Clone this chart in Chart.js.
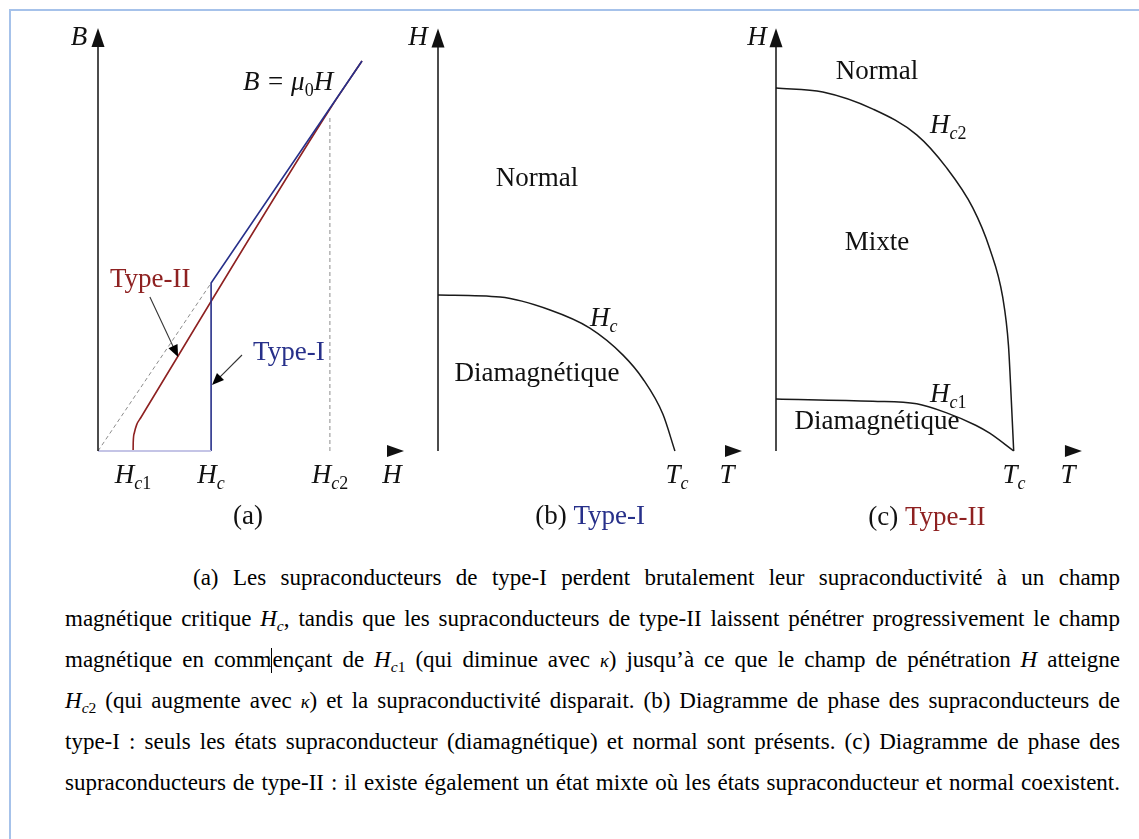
<!DOCTYPE html>
<html lang="fr">
<head>
<meta charset="utf-8">
<title>Supraconducteurs de type I et de type II</title>
<script src="https://cdn.jsdelivr.net/npm/chart.js@4.4.1/dist/chart.umd.min.js"></script>
<style>
  html, body { margin: 0; padding: 0; background: #fff; overflow: hidden; }
  body { width: 1139px; height: 839px; position: relative; }
  #frame {
    position: absolute; left: 9px; top: 9px; width: 1300px; height: 1000px;
    border-left: 2px solid #a6c2ea; border-top: 2px solid #a6c2ea;
  }
  canvas { position: absolute; top: 0; }
  #caption {
    position: absolute; left: 65px; top: 557px; width: 1055px;
    font-family: "Liberation Serif", "Times New Roman", serif; font-size: 23px; color: #000;
  }
  #caption .ln { height: 41px; line-height: 41px; text-align: justify; text-align-last: justify; }
  #caption .first { padding-left: 128px; }
  #caption i { font-style: italic; }
  #caption .s { font-size: 0.68em; vertical-align: -0.3em; line-height: 0; }
  #caption .k { font-size: 0.8em; }
  #caption .caret { display: inline-block; width: 0; height: 25px; border-left: 1px solid #000; vertical-align: -6px; }
</style>
</head>
<body>
<div id="frame"></div>
<canvas id="panelA" width="420" height="540" style="left:0px"></canvas>
<canvas id="panelB" width="380" height="540" style="left:380px"></canvas>
<canvas id="panelC" width="399" height="540" style="left:740px"></canvas>

<div id="caption">
  <div class="ln first">(a) Les supraconducteurs de type-I perdent brutalement leur supraconductivité à un champ</div>
  <div class="ln">magnétique critique <i>H</i><span class="s"><i>c</i></span>, tandis que les supraconducteurs de type-II laissent pénétrer progressivement le champ</div>
  <div class="ln">magnétique en comm<span class="caret"></span>ençant de <i>H</i><span class="s"><i>c</i>1</span> (qui diminue avec <i class="k">κ</i>) jusqu’à ce que le champ de pénétration <i>H</i> atteigne</div>
  <div class="ln"><i>H</i><span class="s"><i>c</i>2</span> (qui augmente avec <i class="k">κ</i>) et la supraconductivité disparait. (b) Diagramme de phase des supraconducteurs de</div>
  <div class="ln">type-I : seuls les états supraconducteur (diamagnétique) et normal sont présents. (c) Diagramme de phase des</div>
  <div class="ln">supraconducteurs de type-II : il existe également un état mixte où les états supraconducteur et normal coexistent.</div>
</div>

<script>
// ---- (a) B(H) curves, arbitrary units ----
const hTickValues = [1.17, 3.77, 7.73];          // Hc1, Hc, Hc2
const hTickSubs = ['c1', 'c', 'c2'];
const type1Base = [[0, 0], [3.77, 0]];
const type1Curve = [[3.77, 0], [3.77, 5.6], [8.8, 13.0]];
const vacuumLine = [[0, 0], [3.77, 5.6]];         // B = mu0 H below Hc
const type2Curve = [[1.17, 0], [1.175, 0.3], [1.21, 0.6], [1.29, 0.88], [1.42, 1.1], [1.6, 1.4], [7.73, 11.4], [8.8, 13.0]];
const hc2Marker = [[7.73, 0], [7.73, 11.2]];

// ---- (b) type I phase diagram, T/Tc vs H/Hc(0) ----
const hcCurve = [[0, 1.0], [0.262, 0.987], [0.473, 0.904], [0.641, 0.788], [0.781, 0.615], [0.865, 0.462], [0.949, 0.237], [1, 0]];

// ---- (c) type II phase diagram, T/Tc vs H/Hc2(0) ----
const hc2Curve = [[0, 1.0], [0.197, 0.989], [0.408, 0.942], [0.592, 0.871], [0.718, 0.780], [0.828, 0.670],
                  [0.899, 0.558], [0.954, 0.423], [0.978, 0.291], [0.99, 0.14], [1, 0]];
const hc1Curve = [[0, 0.143], [0.408, 0.137], [0.592, 0.130], [0.718, 0.105], [0.840, 0.071], [0.899, 0.049], [1, 0]];

const SERIF = '"Liberation Serif", "Times New Roman", serif';
const RED = '#8e2121';
const BLUE = '#27308a';
const INK = '#111';

const pts = arr => arr.map(([x, y]) => ({ x, y }));

function line(data, color, extra) {
  return Object.assign({
    data: pts(data), showLine: true, borderColor: color, borderWidth: 1.6,
    pointRadius: 0, fill: false, clip: false, tension: 0
  }, extra || {});
}

// italic symbol with a subscript: letters italic, digits upright
function sym(base, sub) {
  const runs = [{ t: base, it: true }];
  if (sub) for (const ch of sub) runs.push({ t: ch, it: /[a-z]/.test(ch), sub: true });
  return runs;
}

function drawRuns(ctx, runs, x, y, align, size, color) {
  const fontOf = r => `${r.it ? 'italic ' : ''}${r.sub ? Math.round(size * 0.68) : size}px ${SERIF}`;
  let w = 0;
  runs.forEach(r => { ctx.font = fontOf(r); w += ctx.measureText(r.t).width; });
  let cx = align === 'center' ? x - w / 2 : x;
  ctx.textAlign = 'left';
  ctx.textBaseline = 'middle';
  runs.forEach(r => {
    ctx.font = fontOf(r);
    ctx.fillStyle = r.color || color;
    ctx.fillText(r.t, cx, r.sub ? y + size * 0.3 : y);
    cx += ctx.measureText(r.t).width;
  });
}

function arrowHead(ctx, x, y, angle, len, half) {
  ctx.save();
  ctx.translate(x, y);
  ctx.rotate(angle);
  ctx.beginPath();
  ctx.moveTo(0, 0);
  ctx.lineTo(-len, -half);
  ctx.lineTo(-len, half);
  ctx.closePath();
  ctx.fill();
  ctx.restore();
}

// axes with arrow heads, pointer arrows and all the labels
const sketchPlugin = {
  id: 'sketch',
  afterDatasetsDraw(chart, args, opts) {
    const { ctx } = chart;
    const px = v => chart.scales.x.getPixelForValue(v);
    const py = v => chart.scales.y.getPixelForValue(v);
    ctx.save();
    ctx.fillStyle = INK;
    ctx.strokeStyle = INK;

    // vertical axis
    ctx.lineWidth = 1.5;
    ctx.beginPath();
    ctx.moveTo(px(0), py(0));
    ctx.lineTo(px(0), py(opts.yArrow) + 12);
    ctx.stroke();
    arrowHead(ctx, px(0), py(opts.yArrow), -Math.PI / 2, 19, 6.5);

    // horizontal axis: only its arrow head
    arrowHead(ctx, px(opts.xArrow), py(0), 0, 17, 6);

    // pointer arrows
    (opts.pointers || []).forEach(p => {
      const x1 = px(p.from[0]), y1 = py(p.from[1]), x2 = px(p.to[0]), y2 = py(p.to[1]);
      const a = Math.atan2(y2 - y1, x2 - x1);
      ctx.strokeStyle = '#333';
      ctx.lineWidth = 1.1;
      ctx.beginPath();
      ctx.moveTo(x1, y1);
      ctx.lineTo(x2 - 9 * Math.cos(a), y2 - 9 * Math.sin(a));
      ctx.stroke();
      ctx.fillStyle = '#000';
      arrowHead(ctx, x2, y2, a, 12, 5);
    });

    // tick labels under the horizontal axis
    (opts.ticks || []).forEach(t => {
      drawRuns(ctx, t.runs, px(t.value), py(0) + 25, 'center', 27, INK);
    });

    (opts.labels || []).forEach(l => {
      drawRuns(ctx, l.runs, px(l.x), py(l.y), l.align || 'center', l.size || 27, l.color || INK);
    });
    ctx.restore();
  }
};

function makePanel(id, canvasLeft, plot, xRange, yRange, datasets, sketch) {
  const cv = document.getElementById(id);
  return new Chart(cv, {
    type: 'scatter',
    data: { datasets },
    options: {
      responsive: false,
      animation: false,
      devicePixelRatio: 1,
      layout: {
        padding: {
          left: plot.left - canvasLeft,
          right: canvasLeft + cv.width - plot.right,
          top: plot.top,
          bottom: cv.height - plot.bottom
        }
      },
      scales: {
        x: { type: 'linear', min: xRange[0], max: xRange[1], display: false },
        y: { type: 'linear', min: yRange[0], max: yRange[1], display: false }
      },
      plugins: { legend: { display: false }, tooltip: { enabled: false }, sketch }
    },
    plugins: [sketchPlugin]
  });
}

// (a)
makePanel('panelA', 0, { left: 98, right: 398, top: 31, bottom: 451 }, [0, 10], [0, 14], [
  line(vacuumLine, '#8c8c8c', { borderWidth: 1, borderDash: [4, 3] }),
  line(hc2Marker, '#8c8c8c', { borderWidth: 1, borderDash: [4, 3] }),
  line(type1Base, '#c4c4e6', { borderWidth: 2 }),
  line(type1Curve, BLUE),
  line(type2Curve, RED, { cubicInterpolationMode: 'monotone' })
], {
  yArrow: 14.1,
  xArrow: 10.2,
  ticks: hTickValues.map((v, i) => ({ value: v, runs: sym('H', hTickSubs[i]) })),
  pointers: [
    { from: [1.73, 5.13], to: [2.67, 3.13] },
    { from: [4.8, 3.2], to: [3.8, 2.2] }
  ],
  labels: [
    { x: -0.63, y: 13.77, runs: sym('B') },
    { x: 4.83, y: 12.27, align: 'left', runs: [{ t: 'B = μ', it: true }, { t: '0', sub: true }, { t: 'H', it: true }] },
    { x: 0.4, y: 5.7, align: 'left', color: RED, runs: [{ t: 'Type-II' }] },
    { x: 5.17, y: 3.27, align: 'left', color: BLUE, runs: [{ t: 'Type-I' }] },
    { x: 9.8, y: -0.83, runs: sym('H') },
    { x: 5.0, y: -2.2, runs: [{ t: '(a)' }] }
  ]
});

// (b)
makePanel('panelB', 380, { left: 438, right: 746, top: 30, bottom: 451 }, [0, 1.3], [0, 2.7], [
  line(hcCurve, '#1a1a1a', { borderWidth: 1.5, cubicInterpolationMode: 'monotone' })
], {
  yArrow: 2.71,
  xArrow: 1.283,
  labels: [
    { x: -0.084, y: 2.65, runs: sym('H') },
    { x: 0.418, y: 1.745, runs: [{ t: 'Normal' }] },
    { x: 0.642, y: 0.847, align: 'left', runs: sym('H', 'c') },
    { x: 0.418, y: 0.494, runs: [{ t: 'Diamagnétique' }] },
    { x: 1.009, y: -0.16, runs: sym('T', 'c') },
    { x: 1.22, y: -0.16, runs: sym('T') },
    { x: 0.642, y: -0.423, runs: [{ t: '(b) ' }, { t: 'Type-I', color: BLUE }] }
  ]
});

// (c)
makePanel('panelC', 740, { left: 776, right: 1085, top: 30, bottom: 451 }, [0, 1.3], [0, 1.16], [
  line(hc2Curve, '#1a1a1a', { borderWidth: 1.5, cubicInterpolationMode: 'monotone' }),
  line(hc1Curve, '#1a1a1a', { borderWidth: 1.5, cubicInterpolationMode: 'monotone' })
], {
  yArrow: 1.165,
  xArrow: 1.287,
  labels: [
    { x: -0.08, y: 1.138, runs: sym('H') },
    { x: 0.425, y: 1.044, runs: [{ t: 'Normal' }] },
    { x: 0.648, y: 0.896, align: 'left', runs: sym('H', 'c2') },
    { x: 0.425, y: 0.573, runs: [{ t: 'Mixte' }] },
    { x: 0.648, y: 0.154, align: 'left', runs: sym('H', 'c1') },
    { x: 0.425, y: 0.080, runs: [{ t: 'Diamagnétique' }] },
    { x: 1.001, y: -0.069, runs: sym('T', 'c') },
    { x: 1.228, y: -0.069, runs: sym('T') },
    { x: 0.635, y: -0.185, runs: [{ t: '(c) ' }, { t: 'Type-II', color: RED }] }
  ]
});
</script>
</body>
</html>
